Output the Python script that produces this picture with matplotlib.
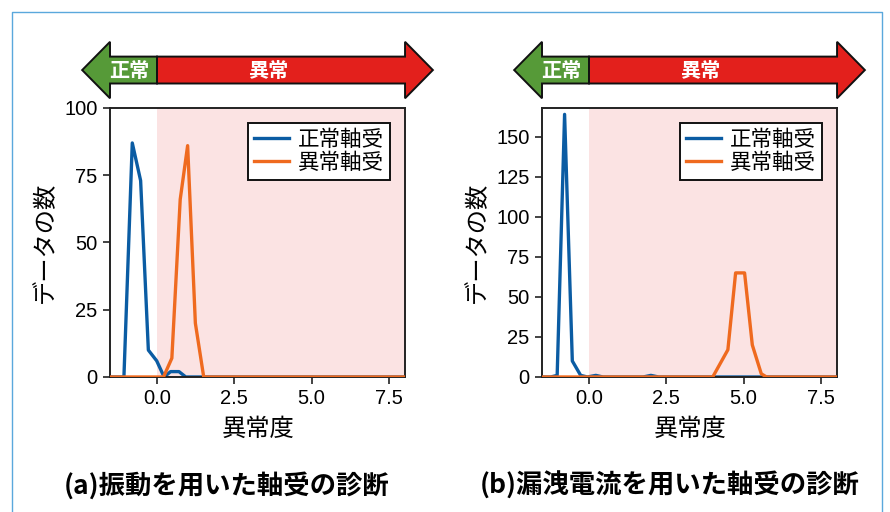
import matplotlib
matplotlib.use("Agg")
import matplotlib.pyplot as plt
from matplotlib.patches import Polygon
from matplotlib.lines import Line2D
from matplotlib.transforms import blended_transform_factory

plt.rcParams['font.family'] = ['Liberation Sans', 'Noto Sans CJK JP']

COL_NORM = "#0b5ca3"
COL_ABN = "#ef6a1f"
COL_GREEN = "#569a38"
COL_RED = "#e3201c"
COL_SHADE = "#fbe3e3"
COL_FRAME = "#5aa8dc"

# (a) vibration-based score histogram
a_norm_x = [-2.0, -1.07, -0.80, -0.53, -0.28, -0.01, 0.23, 0.44, 0.71, 0.93, 9.0]
a_norm_y = [0, 0, 87, 73, 10, 6, 0, 2, 2, 0, 0]
a_abn_x = [-2.0, 0.21, 0.48, 0.75, 0.99, 1.24, 1.51, 9.0]
a_abn_y = [0, 0, 7, 66, 86, 20, 0, 0]

# (b) leakage-current-based score histogram
b_norm_x = [-2.0, -1.24, -1.03, -0.79, -0.54, -0.27, -0.05, 0.22, 0.45, 1.75, 2.0, 2.25, 9.0]
b_norm_y = [0, 0, 1, 164, 10, 1, 0, 1, 0, 0, 1, 0, 0]
b_abn_x = [-2.0, 4.0, 4.49, 4.74, 5.03, 5.28, 5.57, 5.74, 9.0]
b_abn_y = [0, 0, 17, 65, 65, 20, 2, 0, 0]

xticks = [0.0, 2.5, 5.0, 7.5]
a_yticks = [0, 25, 50, 75, 100]
b_yticks = [0, 25, 50, 75, 100, 125, 150]
threshold = 0.0
XLIM = (-1.52, 8.02)

fig = plt.figure(figsize=(8.9, 5.12), dpi=100)


def draw_arrow(ax):
    tr = blended_transform_factory(ax.transData, ax.transAxes)
    x0, x1 = XLIM
    c, s, h, hl = 1.141, 0.05, 0.105, 0.9
    green = [(threshold, c + s), (x0, c + s), (x0, c + h), (x0 - hl, c),
             (x0, c - h), (x0, c - s), (threshold, c - s)]
    red = [(threshold, c + s), (x1, c + s), (x1, c + h), (x1 + hl, c),
           (x1, c - h), (x1, c - s), (threshold, c - s)]
    for pts, col in ((green, COL_GREEN), (red, COL_RED)):
        ax.add_patch(Polygon(pts, closed=True, fc=col, ec="#111111", lw=1.4,
                             transform=tr, clip_on=False, zorder=5))
    ax.text(-0.9, c, "正常", transform=tr, color="white", fontsize=14.5,
            fontweight="bold", ha="center", va="center", zorder=6,
            family=['Noto Sans CJK JP'])
    ax.text(3.6, c, "異常", transform=tr, color="white", fontsize=14.5,
            fontweight="bold", ha="center", va="center", zorder=6,
            family=['Noto Sans CJK JP'])


def panel(rect, nx, ny, ax_, ay, ylim, yticks):
    ax = fig.add_axes(rect)
    ax.axvspan(threshold, XLIM[1], color=COL_SHADE, lw=0, zorder=0)
    ax.plot(nx, ny, color=COL_NORM, lw=2.4, label="正常軸受", zorder=2)
    ax.plot(ax_, ay, color=COL_ABN, lw=2.4, label="異常軸受", zorder=3)
    ax.set_xlim(*XLIM)
    ax.set_ylim(*ylim)
    ax.set_xticks(xticks)
    ax.set_xticklabels([f"{t:.1f}" for t in xticks])
    ax.set_yticks(yticks)
    ax.tick_params(labelsize=14.5, length=5, width=1.2, color="#222222", pad=4)
    for sp in ax.spines.values():
        sp.set_linewidth(1.4)
        sp.set_color("#222222")
    ax.set_xlabel("異常度", fontsize=17.5, labelpad=7)
    ax.set_ylabel("データの数", fontsize=17.5, labelpad=5)
    leg = ax.legend(loc="upper right", fontsize=15.5, fancybox=False,
                    framealpha=1, edgecolor="#111111", borderpad=0.3,
                    handlelength=1.6, handletextpad=0.4, labelspacing=0.1,
                    borderaxespad=0.7)
    leg.get_frame().set_linewidth(1.4)
    draw_arrow(ax)
    return ax


panel([0.1236, 0.2637, 0.3315, 0.5254], a_norm_x, a_norm_y, a_abn_x, a_abn_y,
      (0, 100), a_yticks)
panel([0.609, 0.2637, 0.3315, 0.5254], b_norm_x, b_norm_y, b_abn_x, b_abn_y,
      (0, 168), b_yticks)

fig.text(227 / 890, 1 - 486 / 512, "(a)振動を用いた軸受の診断", fontsize=19,
         fontweight="bold", ha="center", va="center", family=['Noto Sans CJK JP'])
fig.text(670 / 890, 1 - 486 / 512, "(b)漏洩電流を用いた軸受の診断", fontsize=19,
         fontweight="bold", ha="center", va="center", family=['Noto Sans CJK JP'])

# thin frame around the figure, open at the bottom
fx0, fx1, fy = 11.5 / 890, 881.5 / 890, 1 - 11.5 / 512
fig.add_artist(Line2D([fx0, fx0, fx1, fx1], [0, fy, fy, 0], color=COL_FRAME,
                      lw=1.0, transform=fig.transFigure))

fig.savefig("out.png", dpi=100)
